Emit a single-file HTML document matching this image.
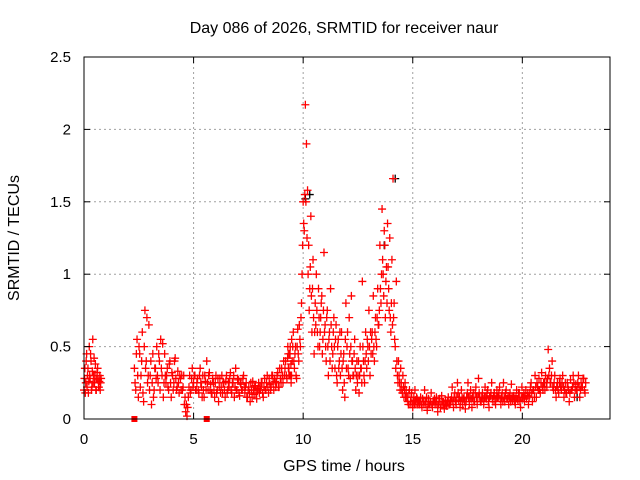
<!DOCTYPE html>
<html><head><meta charset="utf-8"><style>
body{margin:0;background:#fff;}
svg{display:block;font-family:"Liberation Sans",sans-serif;}
</style></head><body>
<svg id="chart" width="640" height="480" viewBox="0 0 640 480">
<rect width="640" height="480" fill="#fff"/>
<text x="344" y="33" text-anchor="middle" font-size="16">Day 086 of 2026, SRMTID for receiver naur</text>
<text x="344" y="471" text-anchor="middle" font-size="16">GPS time / hours</text>
<text transform="translate(19,238) rotate(-90)" text-anchor="middle" font-size="16">SRMTID / TECUs</text>
<g id="grid"></g>
<g id="marks"></g>
<rect x="84" y="57" width="526" height="362" fill="none" stroke="#000" stroke-width="1"/>
<g id="ticks"></g>
</svg>
<script>
const xTicks=[0,5,10,15,20];
const yTicks=[0,0.5,1,1.5,2,2.5];
const yTickLabels=["0","0.5","1","1.5","2","2.5"];
const segStarts=[0.0,2.3,9.3,15.3,0.02,2.33,9.325,15.33];
const segSteps=[0.04,0.06,0.05,0.06,0.04,0.06,0.05,0.06];
const seg0=[0.2,0.35,0.25,0.45,0.3,0.18,0.5,0.28,0.4,0.22,0.55,0.3,0.25,0.38,0.2,0.32,0.27,0.22,0.3,0.25];
const seg1=[0.35,0.2,0.55,0.15,0.45,0.3,0.6,0.12,0.75,0.4,0.25,0.65,
0.3,0.1,0.45,0.2,0.35,0.5,0.25,0.4,0.55,0.3,0.15,0.45,
0.25,0.35,0.2,0.4,0.15,0.3,0.25,0.42,0.2,0.33,0.18,0.28,
0.3,0.22,0.1,0.05,0.02,0.15,0.3,0.2,0.35,0.25,0.3,0.2,
0.28,0.18,0.35,0.22,0.3,0.15,0.26,0.4,0.2,0.32,0.24,0.18,
0.25,0.15,0.3,0.2,0.12,0.28,0.22,0.18,0.25,0.15,0.3,0.2,
0.22,0.32,0.18,0.25,0.15,0.35,0.2,0.27,0.16,0.24,0.2,0.3,
0.18,0.25,0.15,0.22,0.12,0.2,0.26,0.17,0.23,0.14,0.21,0.18,
0.2,0.25,0.15,0.28,0.2,0.3,0.18,0.24,0.22,0.3,0.2,0.26,
0.25,0.32,0.22,0.28,0.35,0.25,0.3,0.4,0.28,0.45,0.3,0.38];
const seg2=[0.5,0.3,0.45,0.25,0.4,0.6,0.35,0.5,0.28,0.62,0.4,0.55,
0.7,1.0,1.5,1.3,2.17,1.9,1.58,1.2,0.9,1.4,0.6,1.1,
0.45,0.8,1.0,0.6,0.9,0.5,0.7,0.85,0.55,1.15,0.65,0.4,
0.75,0.3,0.6,0.9,0.5,0.45,0.7,0.35,0.65,0.25,0.55,0.4,
0.3,0.6,0.2,0.45,0.15,0.8,0.5,0.35,0.7,0.28,0.85,0.4,
0.3,0.55,0.2,0.4,0.3,0.18,0.5,0.35,0.95,0.4,0.25,0.6,
0.35,0.5,0.75,0.3,0.45,0.6,0.85,0.4,0.7,0.5,0.9,0.65,
1.2,0.8,1.45,1.0,1.3,0.7,1.05,1.35,0.9,1.25,0.6,1.1,
1.66,0.8,0.5,0.95,0.3,0.4,0.25,0.35,0.2,0.3,0.15,0.25,
0.2,0.15,0.1,0.2,0.12,0.18,0.08,0.15,0.2,0.1,0.14,0.12];
const seg3=[0.1,0.15,0.08,0.12,0.2,0.1,0.06,0.14,0.1,0.18,0.08,0.12,
0.1,0.15,0.05,0.12,0.08,0.16,0.1,0.07,0.13,0.09,0.15,0.1,
0.12,0.22,0.08,0.18,0.1,0.25,0.13,0.08,0.2,0.1,0.15,0.07,
0.15,0.25,0.1,0.2,0.08,0.18,0.12,0.22,0.1,0.28,0.15,0.12,
0.18,0.1,0.22,0.14,0.2,0.08,0.16,0.25,0.12,0.18,0.1,0.2,
0.15,0.22,0.1,0.18,0.25,0.12,0.2,0.14,0.1,0.18,0.24,0.13,
0.16,0.1,0.2,0.13,0.18,0.08,0.22,0.15,0.12,0.2,0.16,0.1,
0.18,0.25,0.12,0.2,0.3,0.15,0.22,0.28,0.18,0.32,0.2,0.25,
0.3,0.22,0.48,0.35,0.25,0.4,0.2,0.3,0.15,0.25,0.18,0.28,
0.2,0.3,0.15,0.25,0.18,0.22,0.12,0.27,0.2,0.3,0.15,0.24,
0.2,0.3,0.15,0.25,0.22,0.28,0.18];
const seg0b=[0.28,0.18,0.4,0.22,0.35,0.26,0.3,0.45,0.2,0.33,0.25,0.42,0.3,0.2,0.28,0.35,0.22,0.26,0.2,0.28];
const seg1b=[0.25,0.45,0.3,0.5,0.22,0.4,0.18,0.5,0.35,0.7,0.3,0.2,
0.4,0.25,0.15,0.35,0.28,0.3,0.45,0.2,0.35,0.52,0.25,0.3,
0.3,0.22,0.38,0.25,0.32,0.2,0.4,0.28,0.22,0.25,0.3,0.2,
0.2,0.3,0.15,0.1,0.08,0.22,0.18,0.28,0.22,0.3,0.2,0.25,
0.2,0.3,0.25,0.15,0.2,0.3,0.2,0.25,0.3,0.2,0.18,0.28,
0.2,0.25,0.18,0.28,0.22,0.18,0.3,0.25,0.2,0.26,0.18,0.25,
0.28,0.2,0.25,0.3,0.22,0.2,0.28,0.18,0.25,0.2,0.28,0.22,
0.22,0.15,0.2,0.18,0.25,0.15,0.2,0.22,0.18,0.2,0.25,0.22,
0.25,0.18,0.22,0.2,0.25,0.22,0.28,0.2,0.3,0.25,0.28,0.22,
0.3,0.22,0.35,0.25,0.3,0.4,0.35,0.3,0.42,0.35,0.5,0.3];
const seg2b=[0.35,0.45,0.3,0.55,0.5,0.4,0.45,0.3,0.5,0.45,0.65,0.5,
0.8,1.2,1.35,1.55,1.5,1.25,1.0,0.75,1.05,0.85,0.9,0.7,
0.6,0.65,0.75,0.5,0.7,0.6,0.8,0.45,0.75,0.6,0.5,0.7,
0.5,0.55,0.4,0.65,0.35,0.6,0.5,0.55,0.3,0.5,0.35,0.6,
0.45,0.35,0.4,0.25,0.55,0.35,0.6,0.3,0.45,0.5,0.4,0.3,
0.45,0.35,0.3,0.25,0.4,0.3,0.35,0.25,0.5,0.3,0.4,0.45,
0.55,0.4,0.5,0.6,0.55,0.45,0.5,0.6,0.55,0.7,0.65,0.75,
0.9,1.0,1.1,0.85,1.2,0.95,0.8,1.05,0.75,0.7,0.8,0.65,
0.7,0.55,0.35,0.4,0.25,0.3,0.2,0.25,0.18,0.22,0.2,0.15,
0.15,0.12,0.18,0.1,0.15,0.1,0.12,0.1,0.13,0.15,0.1,0.12];
const seg3b=[0.12,0.1,0.14,0.1,0.12,0.15,0.1,0.1,0.12,0.1,0.12,0.14,
0.12,0.1,0.1,0.14,0.1,0.12,0.12,0.1,0.1,0.12,0.1,0.13,
0.15,0.12,0.15,0.12,0.15,0.18,0.15,0.12,0.15,0.14,0.12,0.12,
0.18,0.15,0.15,0.14,0.15,0.12,0.18,0.15,0.15,0.18,0.12,0.15,
0.14,0.15,0.15,0.18,0.12,0.15,0.18,0.14,0.16,0.12,0.15,0.15,
0.18,0.14,0.15,0.12,0.15,0.18,0.14,0.16,0.15,0.12,0.15,0.16,
0.12,0.15,0.14,0.18,0.12,0.15,0.15,0.18,0.16,0.14,0.18,0.15,
0.22,0.18,0.2,0.15,0.22,0.25,0.2,0.2,0.25,0.22,0.25,0.2,
0.25,0.28,0.3,0.25,0.3,0.22,0.25,0.2,0.22,0.2,0.25,0.22,
0.25,0.22,0.2,0.18,0.25,0.2,0.18,0.2,0.22,0.25,0.2,0.2,
0.25,0.22,0.2,0.22,0.28,0.2,0.25];
const zeroTimes=[2.3,5.6];
const blackTimes=[10.1,10.3,13.7,14.2,21.0,22.5];
const blackValues=[1.52,1.55,1.2,1.66,0.25,0.15];

const X0=84,X1=610,Y0=419,Y1=57,XMAX=24,YMAX=2.5;
const sx=t=>X0+(X1-X0)*t/XMAX;
const sy=v=>Y0-(Y0-Y1)*v/YMAX;
const NS="http://www.w3.org/2000/svg";
function mk(tag,attrs,parent){const e=document.createElementNS(NS,tag);for(const k in attrs)e.setAttribute(k,attrs[k]);parent.appendChild(e);return e;}
const grid=document.getElementById('grid'),ticks=document.getElementById('ticks'),marks=document.getElementById('marks');
xTicks.forEach(t=>{
  const x=sx(t);
  if(t>0){const g=mk('line',{x1:x,y1:Y0,x2:x,y2:Y1,stroke:'#a0a0a0','stroke-dasharray':'2,3'},grid);
  
  }
  mk('line',{x1:x,y1:Y0,x2:x,y2:Y0-6,stroke:'#000'},ticks);
  mk('line',{x1:x,y1:Y1,x2:x,y2:Y1+6,stroke:'#000'},ticks);
  const l=mk('text',{x:x,y:Y0+25,'text-anchor':'middle','font-size':'15'},ticks);
  l.textContent=t;
  
  
});
yTicks.forEach((v,i)=>{
  const y=sy(v);
  if(v>0&&v<YMAX){const g=mk('line',{x1:X0,y1:y,x2:X1,y2:y,stroke:'#a0a0a0','stroke-dasharray':'2,3'},grid);
  
  }
  mk('line',{x1:X0,y1:y,x2:X0+6,y2:y,stroke:'#000'},ticks);
  mk('line',{x1:X1,y1:y,x2:X1-6,y2:y,stroke:'#000'},ticks);
  const l=mk('text',{x:X0-13,y:y+5,'text-anchor':'end','font-size':'15'},ticks);
  l.textContent=yTickLabels[i];
  
  
});
function plus(t,v,color){
  const x=sx(t),y=sy(v);
  const p=mk('path',{d:`M${x-4},${y}h8M${x},${y-4}v8`,stroke:color,'stroke-width':'1.3',fill:'none'},marks);
  
  
}
blackTimes.forEach((t,i)=>plus(t,blackValues[i],'#000'));
[seg0,seg1,seg2,seg3,seg0b,seg1b,seg2b,seg3b].forEach((seg,s)=>seg.forEach((v,i)=>plus(segStarts[s]+i*segSteps[s],v,'#f00')));
zeroTimes.forEach(t=>{
  const r=mk('rect',{x:sx(t)-3,y:Y0-3,width:6,height:6,fill:'#f00'},marks);
  
  
});
</script>
</body></html>
